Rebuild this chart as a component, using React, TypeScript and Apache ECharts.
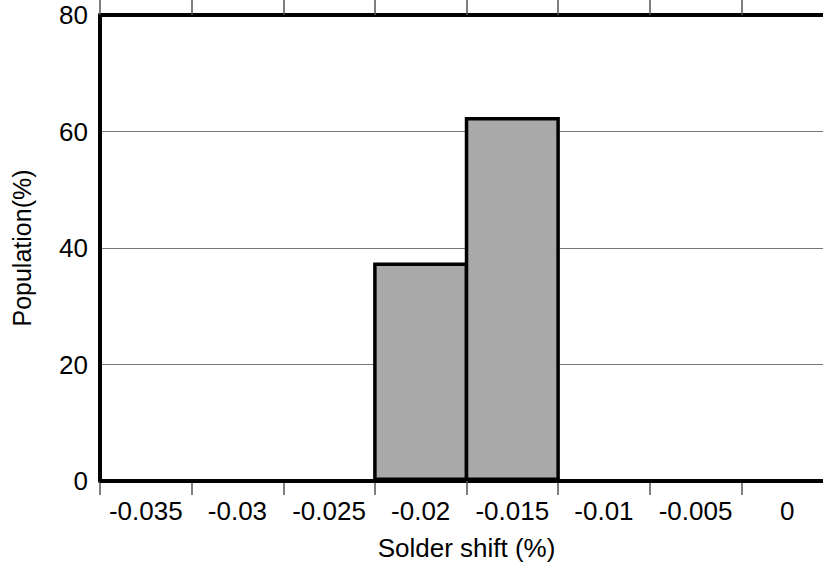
import React, { useEffect, useRef } from "react";
import * as echarts from "echarts";

const binLabels = ["-0.035", "-0.03", "-0.025", "-0.02", "-0.015", "-0.01", "-0.005", "0"];
const population = [0, 0, 0, 37.5, 62.5, 0, 0, 0];
const yTicks = { min: 0, max: 80, interval: 20 };
const xName = "Solder shift (%)";
const yName = "Population(%)";

const FONT = "'Liberation Sans', Arial, sans-serif";

export default function App() {
  const ref = useRef<HTMLDivElement>(null);
  useEffect(() => {
    document.body.style.margin = "0";
    if (!ref.current) return;
    const chart = echarts.init(ref.current, undefined, { renderer: "svg" });
    chart.setOption({
      animation: false,
      textStyle: { fontFamily: FONT },
      grid: { left: 100, top: 15, width: 733, height: 466, outerBoundsMode: "none", containLabel: false },
      xAxis: [
        {
          type: "category",
          data: binLabels,
          position: "bottom",
          name: xName,
          nameLocation: "middle",
          nameGap: 54,
          nameTextStyle: { color: "#000", fontSize: 26, fontFamily: FONT },
          axisLine: { lineStyle: { color: "#000", width: 4 } },
          axisTick: { show: true, length: 14, lineStyle: { color: "#555", width: 1.5 } },
          axisLabel: { color: "#000", fontSize: 26, margin: 17, interval: 0, fontFamily: FONT },
          splitLine: { show: false },
        },
        {
          type: "category",
          data: binLabels,
          position: "top",
          axisLine: { lineStyle: { color: "#000", width: 4 } },
          axisTick: { show: true, length: 15, lineStyle: { color: "#555", width: 1.5 } },
          axisLabel: { show: false },
          splitLine: { show: false },
        },
      ],
      yAxis: {
        type: "value",
        min: yTicks.min,
        max: yTicks.max,
        interval: yTicks.interval,
        name: yName,
        nameLocation: "middle",
        nameGap: 66,
        nameTextStyle: { color: "#000", fontSize: 25, fontFamily: FONT },
        axisLine: { show: true, lineStyle: { color: "#000", width: 4 } },
        axisTick: { show: false },
        axisLabel: { color: "#000", fontSize: 26, margin: 12, fontFamily: FONT },
        splitLine: { show: true, lineStyle: { color: "#777", width: 1 } },
      },
      series: [
        {
          type: "bar",
          data: population,
          barWidth: 95.1,
          barGap: "0%",
          itemStyle: { color: "#a9a9a9", borderColor: "#000", borderWidth: 3.5 },
        },
      ],
    });
    return () => chart.dispose();
  }, []);
  return <div ref={ref} style={{ width: 823, height: 564 }} />;
}
